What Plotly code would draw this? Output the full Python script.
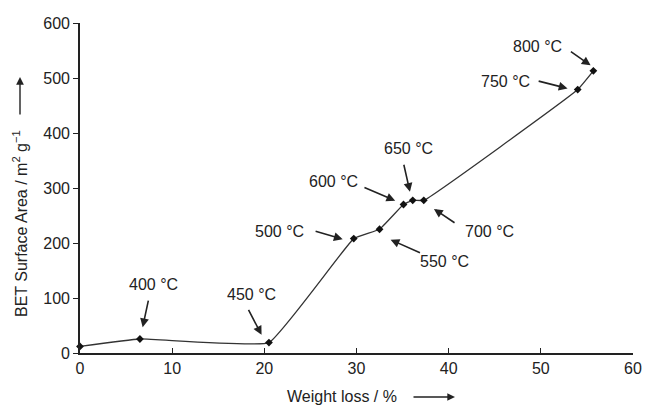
import plotly.graph_objects as go

weight_loss = [0, 6.5, 20.5, 29.7, 32.5, 35.1, 36.1, 37.3, 54.0, 55.7]
surface_area = [12, 25.5, 19, 208, 225, 270, 277.6, 277.6, 479, 513]

labels = ["400 °C", "450 °C", "500 °C", "550 °C", "600 °C", "650 °C", "700 °C", "750 °C", "800 °C"]
label_x = [8.0, 18.6, 21.6, 39.5, 27.5, 35.6, 44.4, 46.2, 49.6]
label_y = [125, 107, 221, 167, 312, 371, 221, 494, 558]
arrow_tail_x = [7.45, 18.2, 25.4, 37.05, 30.7, 35.1, 40.8, 49.6, 53.1]
arrow_tail_y = [98, 81, 222, 181, 302, 345, 235, 495, 550]
arrow_head_x = [6.8, 19.7, 28.5, 33.7, 34.2, 35.8, 38.4, 52.9, 55.4]
arrow_head_y = [47, 33, 207, 206, 277, 293, 262, 481, 523]

x_ticks = [0, 10, 20, 30, 40, 50, 60]
y_ticks = [0, 100, 200, 300, 400, 500, 600]

FONT = "Liberation Sans, Arial, sans-serif"
INK = "#222222"
FS = 16

# page body has an 8px margin; work in page pixels and convert
OFF = 8
W, H = 637, 397
PL, PR, PT, PB = 80, 633, 23, 353   # plot area in page pixels
ML = PL - OFF
MT = PT - OFF
MR = W - (PR - OFF)
MB = H - (PB - OFF)
PW = PR - PL
PH = PB - PT


def px(xp):
    return (xp - PL) / PW


def py(yp):
    return (PB - yp) / PH


fig = go.Figure()
fig.add_trace(go.Scatter(
    x=weight_loss, y=surface_area, mode="lines+markers",
    line=dict(color="#333333", width=1.3, shape="spline", smoothing=0.3),
    marker=dict(symbol="diamond", size=6, color="#111111"),
    cliponaxis=False, showlegend=False,
))

annotations = []
for t, lx, ly in zip(labels, label_x, label_y):
    annotations.append(dict(x=lx, y=ly, xref="x", yref="y", text=t, showarrow=False,
                            font=dict(family=FONT, size=FS, color=INK)))
for tx, ty, hx, hy in zip(arrow_tail_x, arrow_tail_y, arrow_head_x, arrow_head_y):
    annotations.append(dict(x=hx, y=hy, ax=tx, ay=ty, xref="x", yref="y", axref="x", ayref="y",
                            text="", showarrow=True, arrowhead=2, arrowsize=1.1, arrowwidth=1.6,
                            arrowcolor=INK))

# axis titles
annotations.append(dict(x=px(285), y=py(396), xref="paper", yref="paper", text="Weight loss / %",
                        showarrow=False, xanchor="left", yanchor="middle",
                        font=dict(family=FONT, size=FS, color=INK)))
annotations.append(dict(text="BET Surface Area / m<sup>2</sup> g<sup>−1</sup>", x=px(20), y=py(224),
                        xref="paper", yref="paper", showarrow=False, textangle=-90,
                        xanchor="center", yanchor="middle",
                        font=dict(family=FONT, size=FS, color=INK)))
# arrows next to axis titles
annotations.append(dict(x=px(455), y=py(397), ax=-43, ay=0, xref="paper", yref="paper",
                        axref="pixel", ayref="pixel", text="", showarrow=True, arrowhead=2,
                        arrowsize=1.1, arrowwidth=1.4, arrowcolor=INK))
annotations.append(dict(x=px(20), y=py(77), ax=0, ay=39, xref="paper", yref="paper",
                        axref="pixel", ayref="pixel", text="", showarrow=True, arrowhead=2,
                        arrowsize=1.1, arrowwidth=1.4, arrowcolor=INK))

fig.update_layout(
    width=W, height=H,
    margin=dict(l=ML, r=MR, t=MT, b=MB, autoexpand=False),
    paper_bgcolor="white", plot_bgcolor="white",
    font=dict(family=FONT, size=FS, color=INK),
    xaxis=dict(range=[0, 60], tickvals=x_ticks, ticks="inside", ticklen=5, tickwidth=1.3,
               tickcolor=INK, showline=True, linecolor=INK, linewidth=1.6, showgrid=False,
               zeroline=False, automargin=False, ticklabeloverflow="allow",
               tickfont=dict(family=FONT, size=FS, color=INK)),
    yaxis=dict(range=[0, 600], tickvals=y_ticks, ticks="outside", ticklen=5, tickwidth=1.3,
               tickcolor=INK, showline=True, linecolor=INK, linewidth=1.6, showgrid=False,
               zeroline=False, automargin=False, ticklabeloverflow="allow",
               tickfont=dict(family=FONT, size=FS, color=INK)),
    annotations=annotations,
)

fig.write_html(
    "out.html",
    post_script=("document.body.style.margin='8px 0 0 8px';"
                 "document.documentElement.style.overflow='hidden';"
                 "document.body.style.overflow='hidden';"),
)
